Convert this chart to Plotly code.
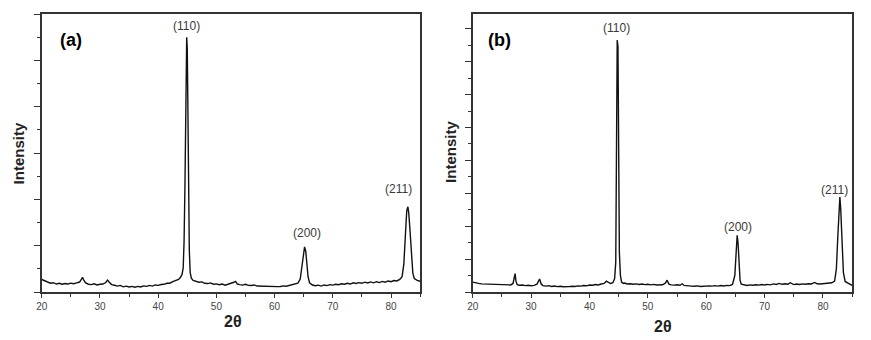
import plotly.graph_objects as go

# ---------------- data ----------------
theta_a = [20.0, 20.5, 21.0, 21.5, 22.0, 22.5, 23.0, 23.5, 24.0, 24.5, 25.0, 25.5, 26.0, 26.5, 26.8, 27.0, 27.2, 27.5,
           28.0, 28.5, 29.0, 29.5, 30.0, 30.5, 31.0, 31.3, 31.6, 32.0, 32.5, 33.0, 33.5, 34.0, 34.5, 35.0, 35.5,
           36.0, 36.5, 37.0, 37.5, 38.0, 38.5, 39.0, 39.5, 40.0, 40.5, 41.0, 41.5, 42.0, 42.5, 43.0, 43.5, 43.8,
           44.1, 44.3, 44.45, 44.6, 44.7, 44.8, 44.9, 45.0, 45.1, 45.2, 45.35, 45.5, 45.7, 46.0, 46.5, 47.0, 47.5,
           48.0, 48.5, 49.0, 49.5, 50.0, 50.5, 51.0, 51.5, 52.0, 52.5, 53.0, 53.3, 53.6, 54.0, 54.5, 55.0, 55.5,
           56.0, 56.5, 57.0, 57.5, 58.0, 58.5, 59.0, 59.5, 60.0, 60.5, 61.0, 61.5, 62.0, 62.5, 63.0, 63.5, 64.0,
           64.4, 64.7, 64.95, 65.15, 65.35, 65.55, 65.75, 66.0, 66.5, 67.0, 67.5, 68.0, 68.5, 69.0, 69.5, 70.0,
           70.5, 71.0, 71.5, 72.0, 72.5, 73.0, 73.5, 74.0, 74.5, 75.0, 75.5, 76.0, 76.5, 77.0, 77.5, 78.0, 78.5,
           79.0, 79.5, 80.0, 80.5, 81.0, 81.5, 81.9, 82.2, 82.5, 82.7, 82.9, 83.05, 83.25, 83.5, 83.75, 84.0,
           84.5, 85.0]
intensity_a = [270, 240, 215, 190, 200, 172, 188, 168, 182, 172, 192, 178, 196, 215, 270, 315, 262, 200,
               168, 160, 178, 152, 168, 172, 205, 258, 212, 160, 146, 128, 142, 112, 126, 108, 122,
               104, 122, 108, 132, 122, 142, 128, 152, 144, 162, 166, 188, 190, 222, 240, 272, 312,
               380, 520, 1100, 2300, 3900, 5480, 5500, 5250, 3300, 2100, 900, 420, 300, 252, 232, 210, 218,
               188, 182, 196, 168, 176, 158, 172, 148, 166, 176, 210, 228, 172, 160, 148, 166, 142,
               140, 152, 128, 126, 118, 116, 108, 104, 110, 116, 120, 132, 124, 142, 150, 162, 190,
               280, 520, 800, 975, 880, 600, 330, 200, 150, 135, 148, 128, 152, 138, 158, 148,
               166, 158, 178, 168, 188, 172, 198, 184, 202, 188, 212, 194, 218, 198, 222, 204, 228,
               212, 238, 222, 248, 238, 272, 330, 600, 1300, 1750, 1840, 1700, 1350, 800, 400, 290,
               250, 232]

theta_b = [20.0, 20.5, 21.0, 21.5, 22.0, 22.5, 23.0, 23.5, 24.0, 24.5, 25.0, 25.5, 26.0, 26.5, 26.9, 27.1, 27.25,
           27.4, 27.6, 28.0, 28.5, 29.0, 29.5, 30.0, 30.5, 31.0, 31.3, 31.45, 31.7, 32.0, 32.5, 33.0, 33.5, 34.0,
           34.5, 35.0, 35.5, 36.0, 36.5, 37.0, 37.5, 38.0, 38.5, 39.0, 39.5, 40.0, 40.5, 41.0, 41.5, 42.0, 42.5,
           42.9, 43.2, 43.6, 44.0, 44.3, 44.5, 44.62, 44.75, 44.88, 45.0, 45.12, 45.3, 45.5, 45.8, 46.0, 46.5,
           47.0, 47.5, 48.0, 48.5, 49.0, 49.5, 50.0, 50.5, 51.0, 51.5, 52.0, 52.5, 53.0, 53.3, 53.6, 54.0, 54.5,
           55.0, 55.5, 55.9, 56.2, 56.5, 57.0, 57.5, 58.0, 58.5, 59.0, 59.5, 60.0, 60.5, 61.0, 61.5, 62.0, 62.5,
           63.0, 63.5, 64.0, 64.5, 64.9, 65.1, 65.3, 65.45, 65.6, 65.8, 66.0, 66.5, 67.0, 67.5, 68.0, 68.5, 69.0,
           69.5, 70.0, 70.5, 71.0, 71.5, 72.0, 72.5, 73.0, 73.5, 74.0, 74.4, 74.8, 75.0, 75.5, 76.0, 76.5, 77.0,
           77.5, 78.0, 78.6, 79.0, 79.5, 80.0, 80.5, 81.0, 81.5, 82.0, 82.3, 82.55, 82.75, 82.9, 83.05, 83.25,
           83.5, 83.8, 84.2, 84.6, 85.0]
intensity_b = [300, 270, 262, 248, 246, 232, 242, 222, 236, 218, 232, 214, 226, 215, 260, 470, 560,
               330, 220, 205, 212, 194, 206, 188, 202, 240, 380, 395, 250, 195, 180, 192, 168, 182,
               164, 176, 158, 172, 164, 176, 168, 186, 178, 196, 188, 212, 204, 226, 214, 242, 260,
               330, 300, 258, 280, 400, 900, 3400, 7660, 7460, 2050, 1200, 500, 300, 262, 272, 244,
               252, 234, 246, 228, 242, 224, 236, 218, 232, 214, 226, 220, 270, 360, 240, 215, 208,
               222, 204, 250, 200, 190, 186, 178, 176, 186, 168, 180, 174, 186, 178, 192, 178, 196,
               184, 202, 194, 230, 500, 1200, 1720, 1500, 900, 350, 240, 210, 198, 216, 204, 222, 208,
               226, 214, 232, 218, 246, 228, 262, 234, 252, 238, 282, 234, 224, 242, 228, 246, 234,
               252, 244, 290, 250, 244, 256, 248, 266, 280, 330, 700, 1700, 2600, 2890, 2500, 1400,
               600, 320, 270, 240, 200]

x_ticks = [20, 30, 40, 50, 60, 70, 80]
peak_labels = ["(110)", "(200)", "(211)"]
panel_labels = ["(a)", "(b)"]
y_title = "Intensity"
x_title = "2θ"

# ---------------- figure ----------------
W, H = 871, 340
FONT = "Arial, Liberation Sans, sans-serif"

fig = go.Figure()
fig.add_trace(go.Scatter(x=theta_a, y=intensity_a, mode="lines",
                         line=dict(color="#111111", width=1.4), xaxis="x", yaxis="y",
                         showlegend=False, hoverinfo="skip"))
fig.add_trace(go.Scatter(x=theta_b, y=intensity_b, mode="lines",
                         line=dict(color="#111111", width=1.4), xaxis="x2", yaxis="y2",
                         showlegend=False, hoverinfo="skip"))


def xaxis_cfg(domain, anchor):
    return dict(domain=domain, anchor=anchor, range=[20, 85], tickmode="array", tickvals=x_ticks,
                ticktext=[str(t) for t in x_ticks], ticks="outside", ticklen=4, tickwidth=1,
                tickcolor="#333", showline=True, linecolor="#333", linewidth=1.5, mirror=True,
                showgrid=False, zeroline=False,
                tickfont=dict(family=FONT, size=10, color="#444"),
                minor=dict(ticks="outside", ticklen=3, dtick=5, tick0=20, tickcolor="#333"))


def yaxis_cfg(domain, anchor, top):
    return dict(domain=domain, anchor=anchor, range=[0, top], showticklabels=False,
                ticks="outside", ticklen=6, tickwidth=1, tickcolor="#333", dtick=1000, tick0=0,
                showline=True, linecolor="#333", linewidth=1.5, mirror=True,
                showgrid=False, zeroline=False,
                minor=dict(ticks="outside", ticklen=3, dtick=500, tick0=0, tickcolor="#333"))


xa = [36 / W, 417 / W]
xb = [470 / W, 852 / W]
yd = [(H - 292) / H, (H - 14) / H]

fig.update_layout(
    width=W, height=H, margin=dict(l=0, r=0, t=0, b=0),
    paper_bgcolor="white", plot_bgcolor="white",
    xaxis=xaxis_cfg(xa, "y"), yaxis=yaxis_cfg(yd, "x", 6000),
    xaxis2=xaxis_cfg(xb, "y2"), yaxis2=yaxis_cfg(yd, "x2", 8450),
)

ann = []
C = dict(xanchor="center", yanchor="middle", showarrow=False)
pk_font = dict(family=FONT, size=12, color="#3a3a3a")
# peak labels panel (a)
ann.append(dict(x=44.8, y=5732, xref="x", yref="y", text=peak_labels[0], font=pk_font, **C))
ann.append(dict(x=65.5, y=1270, xref="x", yref="y", text=peak_labels[1], font=pk_font, **C))
ann.append(dict(x=81.2, y=2221, xref="x", yref="y", text=peak_labels[2], font=pk_font, **C))
# peak labels panel (b)
ann.append(dict(x=44.6, y=8036, xref="x2", yref="y2", text=peak_labels[0], font=pk_font, **C))
ann.append(dict(x=65.45, y=1987, xref="x2", yref="y2", text=peak_labels[1], font=pk_font, **C))
ann.append(dict(x=82.0, y=3099, xref="x2", yref="y2", text=peak_labels[2], font=pk_font, **C))

# panel labels
pl_font = dict(family=FONT, size=18, color="#000")
ann.append(dict(x=65.5 / W, y=1 - 39.5 / H, xref="paper", yref="paper", text="<b>%s</b>" % panel_labels[0],
                font=pl_font, **C))
ann.append(dict(x=497 / W, y=1 - 40 / H, xref="paper", yref="paper", text="<b>%s</b>" % panel_labels[1],
                font=pl_font, **C))

# axis titles
yt_font = dict(family=FONT, size=15, color="#222")
ann.append(dict(x=13.5 / W, y=1 - 153 / H, xref="paper", yref="paper", text="<b>%s</b>" % y_title,
                textangle=-90, font=yt_font, **C))
ann.append(dict(x=447 / W, y=1 - 152 / H, xref="paper", yref="paper", text="<b>%s</b>" % y_title,
                textangle=-90, font=yt_font, **C))
xt_font = dict(family=FONT, size=16, color="#222")
ann.append(dict(x=229 / W, y=1 - 321 / H, xref="paper", yref="paper", text="<b>%s</b>" % x_title,
                font=xt_font, **C))
ann.append(dict(x=662 / W, y=1 - 326 / H, xref="paper", yref="paper", text="<b>%s</b>" % x_title,
                font=xt_font, **C))

fig.update_layout(annotations=ann)
fig.write_html("out.html")
